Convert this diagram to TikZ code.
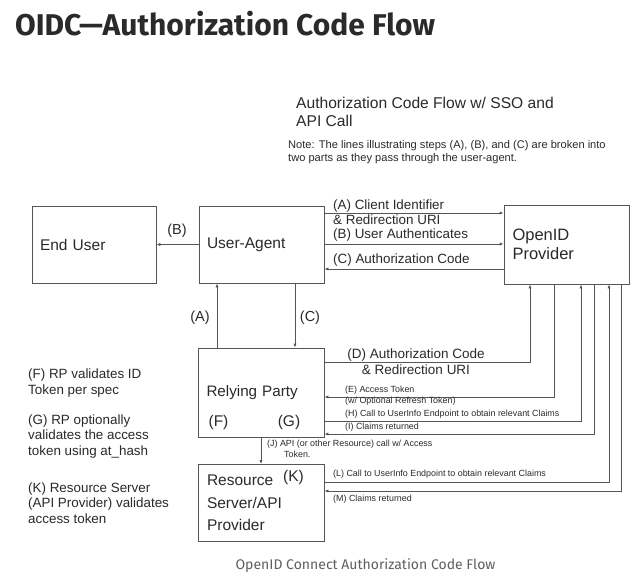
\documentclass[tikz,border=0pt]{standalone}
\usepackage{fontspec}
\setmainfont{Liberation Sans}
\newfontfamily\titlefont{Fira Sans}
\usepackage{tikz}
\usetikzlibrary{arrows.meta}
\usepackage{xcolor}
\definecolor{ink}{HTML}{2A2A2A}
\definecolor{edge}{HTML}{555555}
\definecolor{muted}{HTML}{5F5F5F}

\begin{document}
\begin{tikzpicture}[x=1pt, y=-1pt,
    box/.style={draw=edge, line width=0.8pt, align=left, inner xsep=8pt, text=ink,
      font=\fontsize{15.5}{18}\selectfont},
    flow/.style={draw=edge, line width=0.8pt, -{Latex[length=4pt,width=3.2pt]}},
    lbl/.style={text=ink, inner sep=0pt, align=left, font=\fontsize{13.4}{15.5}\selectfont},
    small/.style={text=ink, inner sep=0pt, align=left, font=\fontsize{8.9}{11}\selectfont},
    tag/.style={text=ink, inner sep=0pt, font=\fontsize{15.5}{17}\selectfont}]
    \useasboundingbox[fill=white] (0,0) rectangle (640,581);

    % title and caption
    \node[anchor=west, inner sep=0pt, text=ink, font=\titlefont\bfseries\fontsize{30}{34}\selectfont]
      (title) at (15,24) {OIDC—Authorization Code Flow};
    \node[inner sep=0pt, text=muted, font=\titlefont\fontsize{14}{16}\selectfont]
      (caption) at (365.5,566) {OpenID Connect Authorization Code Flow};

    % heading and note
    \node[lbl, anchor=west, font=\fontsize{15.6}{18}\selectfont] (heading) at (296,112)
      {Authorization Code Flow w/ SSO and\\API Call};
    \node[lbl, anchor=west, font=\fontsize{11.1}{12.5}\selectfont] (note) at (288,152)
      {Note: The lines illustrating steps (A), (B), and (C) are broken into\\two parts as they pass through the user-agent.};

    % boxes
    \node[box, minimum width=124pt, minimum height=77pt, text width=108pt] (user) at (94,244.5) {End User};
    \node[box, minimum width=125pt, minimum height=77pt, text width=109pt] (agent) at (261.5,244.5) {User-Agent};
    \node[box, minimum width=125pt, minimum height=79pt, text width=108pt, inner xsep=8.5pt,
      font=\fontsize{16.5}{18.5}\selectfont] (op) at (566.5,244.5) {OpenID\\Provider};
    \node[box, minimum width=126pt, minimum height=89pt, text width=109pt, font=\fontsize{15.2}{18}\selectfont]
      (rp) at (261,392.5) {Relying Party};
    \node[box, minimum width=126pt, minimum height=77pt, text width=108pt, inner xsep=9pt,
      font=\fontsize{15.5}{22.5}\selectfont] (rs) at (261,503) {Resource\\Server/API\\Provider};

    % tags inside boxes
    \node[tag] (tag-f) at (218.5,422) {(F)};
    \node[tag] (tag-g) at (289,422) {(G)};
    \node[tag] (tag-k) at (293.5,477) {(K)};

    % user-agent legs
    \draw[flow] (agent.west) -- (user.east);
    \node[tag, font=\fontsize{14.5}{16}\selectfont] (lbl-b0) at (177,231) {(B)};
    \draw[flow] (agent.east |- 0,213) -- (op.west |- 0,213);
    \node[lbl, anchor=west] (lbl-a) at (333,212) {(A) Client Identifier\\\& Redirection URI};
    \draw[flow] (agent.east |- 0,244) -- (op.west |- 0,244);
    \node[lbl, anchor=west] (lbl-b) at (333,235) {(B) User Authenticates};
    \draw[flow] (op.west |- 0,269) -- (agent.east |- 0,269);
    \node[lbl, anchor=west] (lbl-c) at (333,260) {(C) Authorization Code};
    \draw[flow] (rp.north -| 217,0) -- (agent.south -| 217,0);
    \node[tag, font=\fontsize{14.5}{16}\selectfont] (lbl-a0) at (200,318) {(A)};
    \draw[flow] (agent.south -| 295,0) -- (rp.north -| 295,0);
    \node[tag, font=\fontsize{14.5}{16}\selectfont] (lbl-c0) at (310,318) {(C)};

    % relying party <-> provider
    \draw[flow] (rp.east |- 0,362) -| (op.south -| 530,0);
    \node[lbl, align=center, font=\fontsize{13.5}{16}\selectfont] (lbl-d) at (416,362)
      {(D) Authorization Code\\\& Redirection URI};
    \draw[flow] (op.south -| 554,0) |- (rp.east |- 0,397);
    \node[small, anchor=west] (lbl-e) at (345,395.5) {(E) Access Token\\(w/ Optional Refresh Token)};
    \draw[flow] (rp.east |- 0,421) -| (op.south -| 581,0);
    \node[small, anchor=west] (lbl-h) at (345,414.5) {(H) Call to UserInfo Endpoint to obtain relevant Claims};
    \draw[flow] (op.south -| 594,0) |- (rp.east |- 0,434);
    \node[small, anchor=west] (lbl-i) at (345,427.5) {(I) Claims returned};

    % API call
    \draw[flow] (rp.south -| 261,0) -- (rs.north -| 261,0);
    \node[small, anchor=west] (lbl-j) at (267,448.5)
      {(J) API (or other Resource) call w/ Access\\\hspace*{17pt}Token.};
    \draw[flow] (rs.east |- 0,482) -| (op.south -| 609,0);
    \node[small, anchor=west] (lbl-l) at (333,474.5) {(L) Call to UserInfo Endpoint to obtain relevant Claims};
    \draw[flow] (op.south -| 621,0) |- (rs.east |- 0,491);
    \node[small, anchor=west] (lbl-m) at (333,499.5) {(M) Claims returned};

    % side notes
    \node[lbl, anchor=west] (note-f) at (28,383) {(F) RP validates ID\\Token per spec};
    \node[lbl, anchor=west] (note-g) at (28,436.5) {(G) RP optionally\\validates the access\\token using at\_hash};
    \node[lbl, anchor=west] (note-k) at (28,503) {(K) Resource Server\\(API Provider) validates\\access token};
\end{tikzpicture}
\end{document}
